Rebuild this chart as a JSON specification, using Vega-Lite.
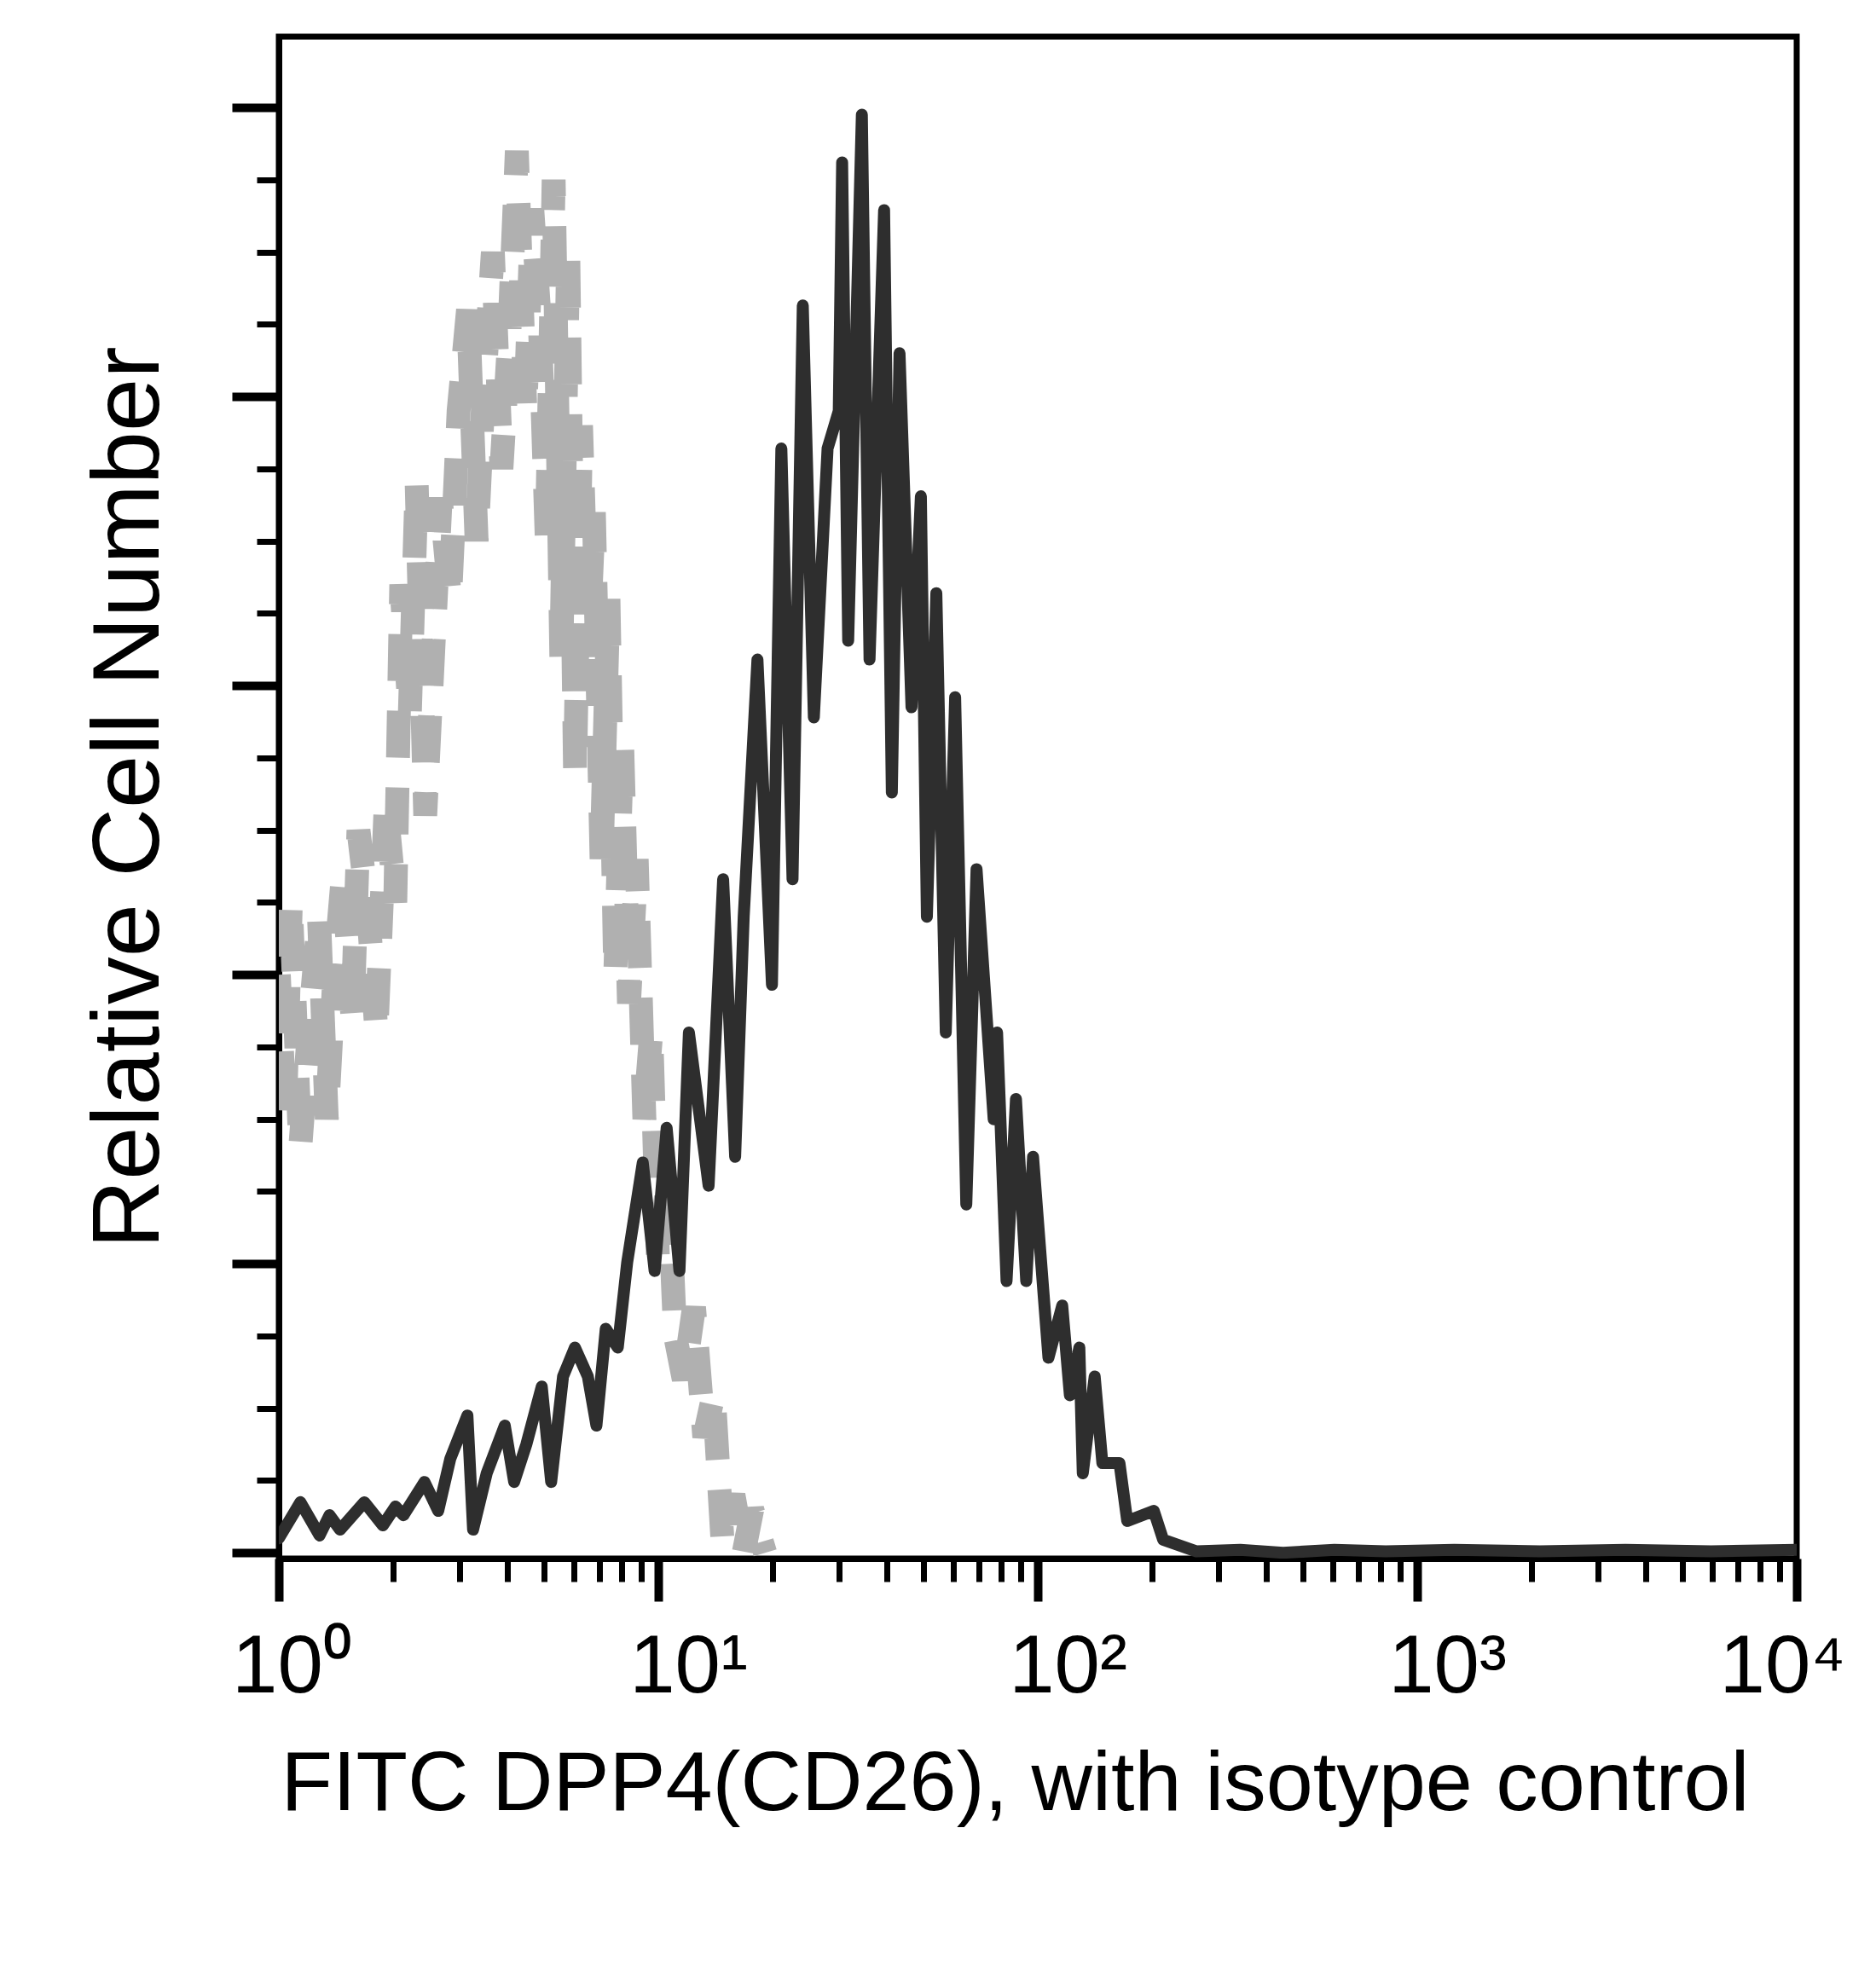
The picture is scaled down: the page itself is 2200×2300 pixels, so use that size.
{
  "$schema": "https://vega.github.io/schema/vega-lite/v6.json",
  "width": 1780,
  "height": 1785,
  "autosize": {"type": "none"},
  "padding": {"left": 327, "top": 43, "right": 93, "bottom": 472},
  "background": "white",
  "datasets": {
    "isotype": [
      {"intensity": 1.0, "count": 40}, {"intensity": 1.037, "count": 30}, {"intensity": 1.0755, "count": 45},
      {"intensity": 1.1385, "count": 28}, {"intensity": 1.1995, "count": 36}, {"intensity": 1.276, "count": 44},
      {"intensity": 1.3375, "count": 30}, {"intensity": 1.4014, "count": 40}, {"intensity": 1.4763, "count": 47},
      {"intensity": 1.5632, "count": 37}, {"intensity": 1.6211, "count": 50}, {"intensity": 1.7255, "count": 44},
      {"intensity": 1.8079, "count": 36}, {"intensity": 1.9143, "count": 52}, {"intensity": 2.027, "count": 45},
      {"intensity": 2.1019, "count": 67}, {"intensity": 2.214, "count": 58}, {"intensity": 2.308, "count": 74},
      {"intensity": 2.4309, "count": 51}, {"intensity": 2.5473, "count": 62}, {"intensity": 2.6694, "count": 73},
      {"intensity": 2.826, "count": 66}, {"intensity": 2.9771, "count": 79}, {"intensity": 3.1521, "count": 86},
      {"intensity": 3.3204, "count": 70}, {"intensity": 3.4608, "count": 80}, {"intensity": 3.6645, "count": 90},
      {"intensity": 3.8601, "count": 75}, {"intensity": 4.0448, "count": 84}, {"intensity": 4.2382, "count": 97},
      {"intensity": 4.4636, "count": 79}, {"intensity": 4.6535, "count": 93}, {"intensity": 4.876, "count": 85},
      {"intensity": 5.0841, "count": 70}, {"intensity": 5.2991, "count": 95}, {"intensity": 5.5522, "count": 62},
      {"intensity": 5.7893, "count": 90}, {"intensity": 6.034, "count": 54}, {"intensity": 6.2573, "count": 78},
      {"intensity": 6.522, "count": 62}, {"intensity": 6.7639, "count": 72}, {"intensity": 7.0876, "count": 48},
      {"intensity": 7.3896, "count": 66}, {"intensity": 7.7018, "count": 40}, {"intensity": 8.0299, "count": 56},
      {"intensity": 8.3699, "count": 38}, {"intensity": 8.7702, "count": 48}, {"intensity": 9.19, "count": 30},
      {"intensity": 9.581, "count": 36}, {"intensity": 9.986, "count": 20}, {"intensity": 10.63, "count": 26},
      {"intensity": 11.08, "count": 15}, {"intensity": 11.67, "count": 12}, {"intensity": 12.42, "count": 17},
      {"intensity": 13.22, "count": 8}, {"intensity": 14.0, "count": 11}, {"intensity": 14.75, "count": 1},
      {"intensity": 15.78, "count": 4}, {"intensity": 16.79, "count": 0}, {"intensity": 17.68, "count": 3},
      {"intensity": 19.12, "count": 0}
    ],
    "dpp4": [
      {"intensity": 1.0, "count": 1.0}, {"intensity": 1.14, "count": 3.5}, {"intensity": 1.28, "count": 1.2},
      {"intensity": 1.36, "count": 2.6}, {"intensity": 1.45, "count": 1.6}, {"intensity": 1.68, "count": 3.5},
      {"intensity": 1.88, "count": 1.9}, {"intensity": 2.03, "count": 3.2}, {"intensity": 2.13, "count": 2.6},
      {"intensity": 2.42, "count": 4.9}, {"intensity": 2.63, "count": 2.9}, {"intensity": 2.83, "count": 6.5},
      {"intensity": 3.14, "count": 9.5}, {"intensity": 3.25, "count": 1.6}, {"intensity": 3.53, "count": 5.5},
      {"intensity": 3.94, "count": 8.8}, {"intensity": 4.17, "count": 4.9}, {"intensity": 4.49, "count": 7.5},
      {"intensity": 4.93, "count": 11.5}, {"intensity": 5.22, "count": 4.9}, {"intensity": 5.61, "count": 12.2},
      {"intensity": 6.03, "count": 14.2}, {"intensity": 6.52, "count": 12.2}, {"intensity": 6.87, "count": 8.8},
      {"intensity": 7.27, "count": 15.5}, {"intensity": 7.82, "count": 14.2}, {"intensity": 8.28, "count": 20.1},
      {"intensity": 9.1, "count": 27}, {"intensity": 9.78, "count": 19.5}, {"intensity": 10.52, "count": 29.4},
      {"intensity": 11.37, "count": 19.5}, {"intensity": 12.04, "count": 36}, {"intensity": 13.57, "count": 25.4},
      {"intensity": 14.82, "count": 46.6}, {"intensity": 15.94, "count": 27.4}, {"intensity": 16.79, "count": 44},
      {"intensity": 18.25, "count": 61.8}, {"intensity": 19.93, "count": 39.3}, {"intensity": 21.1, "count": 76.4},
      {"intensity": 22.58, "count": 46.6}, {"intensity": 24.03, "count": 86.3}, {"intensity": 25.7, "count": 57.8},
      {"intensity": 27.93, "count": 76.4}, {"intensity": 29.89, "count": 79}, {"intensity": 30.51, "count": 96.2},
      {"intensity": 31.65, "count": 63.1}, {"intensity": 34.39, "count": 99.5}, {"intensity": 36.03, "count": 61.8},
      {"intensity": 39.36, "count": 92.9}, {"intensity": 41.25, "count": 52.6}, {"intensity": 43.22, "count": 83},
      {"intensity": 46.48, "count": 58.5}, {"intensity": 49.2, "count": 73.1}, {"intensity": 51.03, "count": 44},
      {"intensity": 54.04, "count": 66.4}, {"intensity": 57.22, "count": 36}, {"intensity": 60.57, "count": 59.2},
      {"intensity": 64.81, "count": 24.1}, {"intensity": 68.97, "count": 47.3}, {"intensity": 76.52, "count": 30},
      {"intensity": 78.13, "count": 36}, {"intensity": 82.74, "count": 18.8}, {"intensity": 87.61, "count": 31.4},
      {"intensity": 93.24, "count": 18.8}, {"intensity": 97.18, "count": 27.4}, {"intensity": 106.7, "count": 13.5},
      {"intensity": 116.0, "count": 17.1}, {"intensity": 121.5, "count": 10.9}, {"intensity": 128.7, "count": 14.2},
      {"intensity": 131.4, "count": 5.5}, {"intensity": 141.25, "count": 12.2}, {"intensity": 148.0, "count": 6.2},
      {"intensity": 164.2, "count": 6.2}, {"intensity": 172.1, "count": 2.2}, {"intensity": 202.2, "count": 2.9},
      {"intensity": 214.0, "count": 0.9}, {"intensity": 262.1, "count": 0.1}, {"intensity": 341.7, "count": 0.2},
      {"intensity": 443.0, "count": 0.0}, {"intensity": 605.0, "count": 0.2}, {"intensity": 826.3, "count": 0.1},
      {"intensity": 1252, "count": 0.2}, {"intensity": 2105, "count": 0.1}, {"intensity": 3539, "count": 0.2},
      {"intensity": 5949, "count": 0.1}, {"intensity": 10000, "count": 0.2}
    ]
  },
  "layer": [
    {
      "data": {"name": "isotype"},
      "mark": {
        "type": "line",
        "color": "#b0b0b0",
        "strokeWidth": 28,
        "strokeDash": [55, 35],
        "strokeCap": "butt",
        "clip": true
      },
      "encoding": {
        "x": {
          "field": "intensity",
          "type": "quantitative",
          "scale": {"type": "log", "domain": [1, 10000], "nice": false},
          "axis": {
            "values": [1, 2, 3, 4, 5, 6, 7, 8, 9, 10, 20, 30, 40, 50, 60, 70, 80, 90, 100, 200, 300, 400, 500, 600, 700, 800, 900, 1000, 2000, 3000, 4000, 5000, 6000, 7000, 8000, 9000, 10000],
            "labelExpr": "datum.value == 1 ? '10⁰' : datum.value == 10 ? '10¹' : datum.value == 100 ? '10²' : datum.value == 1000 ? '10³' : datum.value == 10000 ? '10⁴' : ''",
            "labelFont": "Liberation Sans",
            "labelFontSize": 96,
            "labelColor": "black",
            "labelBaseline": "alphabetic",
            "labelPadding": 106,
            "labelOverlap": false,
            "labelFlush": false,
            "labelBound": false,
            "labelOffset": {
              "condition": [
                {"test": "datum.value == 1", "value": 15},
                {"test": "datum.value == 10000", "value": -17}
              ],
              "value": 35
            },
            "grid": false,
            "domainColor": "black",
            "domainWidth": 7,
            "tickColor": "black",
            "tickSize": {
              "condition": {"test": "indexof([1, 10, 100, 1000, 10000], datum.value) >= 0", "value": 50},
              "value": 27
            },
            "tickWidth": {
              "condition": {"test": "indexof([1, 10, 100, 1000, 10000], datum.value) >= 0", "value": 10},
              "value": 7
            },
            "title": "FITC DPP4(CD26), with isotype control",
            "titleFont": "Liberation Sans",
            "titleFontSize": 99,
            "titleFontWeight": "normal",
            "titleColor": "black",
            "titleBaseline": "alphabetic",
            "titleAlign": "center",
            "titleX": 863,
            "titleY": 294
          }
        },
        "y": {
          "field": "count",
          "type": "quantitative",
          "scale": {"domain": [-0.4, 104.9], "nice": false, "zero": false},
          "axis": {
            "values": [0, 5, 10, 15, 20, 25, 30, 35, 40, 45, 50, 55, 60, 65, 70, 75, 80, 85, 90, 95, 100],
            "labels": false,
            "grid": false,
            "domainColor": "black",
            "domainWidth": 7,
            "tickColor": "black",
            "tickSize": {
              "condition": {"test": "datum.value % 20 == 0", "value": 55},
              "value": 26
            },
            "tickWidth": {
              "condition": {"test": "datum.value % 20 == 0", "value": 10},
              "value": 7
            },
            "title": "Relative Cell Number",
            "titleFont": "Liberation Sans",
            "titleFontSize": 112,
            "titleFontWeight": "normal",
            "titleColor": "black",
            "titleBaseline": "alphabetic",
            "titleAlign": "center",
            "titleAngle": -90,
            "titleX": -142,
            "titleY": 892
          }
        }
      }
    },
    {
      "data": {"name": "dpp4"},
      "mark": {
        "type": "line",
        "color": "#2e2e2e",
        "strokeWidth": 14,
        "strokeJoin": "round",
        "strokeCap": "round",
        "clip": true
      },
      "encoding": {
        "x": {"field": "intensity", "type": "quantitative"},
        "y": {"field": "count", "type": "quantitative"}
      }
    }
  ],
  "config": {
    "font": "Liberation Sans",
    "view": {"stroke": "black", "strokeWidth": 7}
  }
}
